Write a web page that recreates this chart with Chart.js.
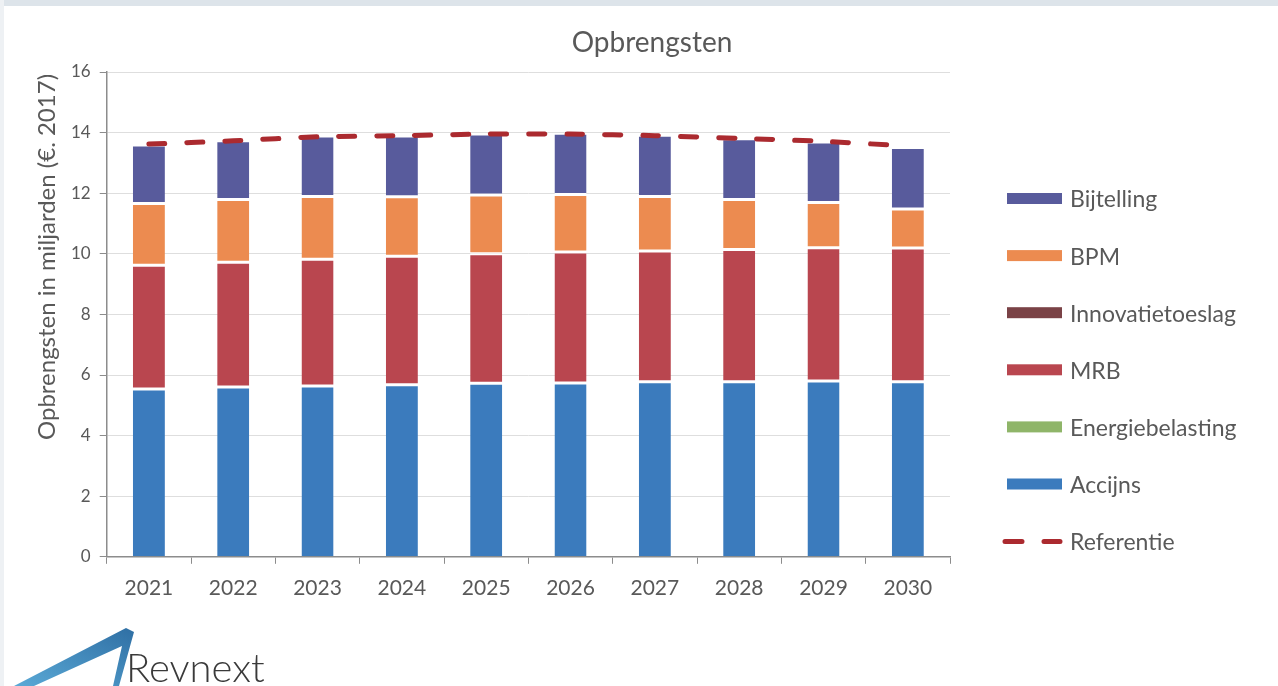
<!DOCTYPE html>
<html lang="nl">
<head>
<meta charset="utf-8">
<title>Opbrengsten</title>
<script src="https://cdn.jsdelivr.net/npm/chart.js@4.4.1/dist/chart.umd.min.js"></script>
<style>
  html, body { margin: 0; padding: 0; background: #fff; }
  body { width: 1278px; height: 686px; position: relative; overflow: hidden; font-family: Lato, "Open Sans", sans-serif; }
  .scanedge { position: absolute; left: 0; top: 0; width: 1278px; height: 6px; background: #dde4ea; }
  .scanleft { position: absolute; left: 0; top: 0; width: 4px; height: 686px; background: #eef1f4; }
  #wrap { position: absolute; left: 0; top: 0; width: 1278px; height: 686px; }
  .logo { position: absolute; left: 0; top: 620px; width: 300px; height: 66px; }
  .logo span { position: absolute; left: 126px; top: 23px; font-size: 40px; color: #3a3a3a; font-weight: 300; }
</style>
</head>
<body>
<div class="scanedge"></div>
<div class="scanleft"></div>
<div id="wrap"><canvas id="chart" width="1278" height="686"></canvas></div>
<div class="logo">
  <svg width="140" height="66" viewBox="0 0 140 66">
    <defs>
      <linearGradient id="lg" x1="0" y1="1" x2="1" y2="0">
        <stop offset="0" stop-color="#5aa9d6"/>
        <stop offset="1" stop-color="#2f6fa4"/>
      </linearGradient>
    </defs>
    <polygon points="14,66 126,8 134,12 119,66 113,66 122,26 34,66" fill="url(#lg)"/>
  </svg>
  <span>Revnext</span>
</div>
<script>
// Opbrengsten per jaar (miljarden euro, prijspeil 2017)
const years = ['2021', '2022', '2023', '2024', '2025', '2026', '2027', '2028', '2029', '2030'];

const accijns          = [5.54, 5.60, 5.64, 5.68, 5.73, 5.74, 5.78, 5.78, 5.80, 5.78];
const energiebelasting = [0, 0, 0, 0, 0, 0, 0, 0, 0, 0];
const mrb              = [4.08, 4.12, 4.18, 4.24, 4.27, 4.32, 4.31, 4.36, 4.40, 4.41];
const innovatietoeslag = [0, 0, 0, 0, 0, 0, 0, 0, 0, 0];
const bpm              = [2.04, 2.07, 2.07, 1.96, 1.94, 1.90, 1.80, 1.65, 1.49, 1.29];
const bijtelling       = [1.93, 1.94, 2.00, 2.01, 2.01, 2.02, 2.02, 2.01, 2.00, 2.03];
const referentie       = [13.62, 13.73, 13.86, 13.90, 13.95, 13.95, 13.90, 13.81, 13.71, 13.56];

const yTicks = { min: 0, max: 16, step: 2 };

const TEXT = '#595959';
const FONT = 'Lato, "Open Sans", sans-serif';

function barSet(label, data, color, bottomGap = true) {
    return {
        type: 'bar',
        label,
        data,
        backgroundColor: color,
        borderColor: '#ffffff',
        borderWidth: { top: 1.5, bottom: bottomGap ? 1.5 : 0, left: 0, right: 0 },
        borderSkipped: false,
        stack: 'opbrengst',
        order: 1,
        barPercentage: 0.38,
        categoryPercentage: 1,
    };
}

// titel en y-as titel staan in het origineel niet gecentreerd op het plotvlak
const titlesPlugin = {
    id: 'titles',
    afterDraw(chart) {
        const ctx = chart.ctx;
        ctx.save();
        ctx.fillStyle = TEXT;
        ctx.textAlign = 'center';
        ctx.textBaseline = 'middle';
        ctx.font = `28px ${FONT}`;
        ctx.fillText('Opbrengsten', 652, 43);
        ctx.translate(47, 257);
        ctx.rotate(-Math.PI / 2);
        ctx.font = `24px ${FONT}`;
        ctx.fillText('Opbrengsten in miljarden (€. 2017)', 0, 0);
        ctx.restore();
    }
};

// legenda rechts: omgekeerde stapelvolgorde, daarna de referentielijn
const legendPlugin = {
    id: 'sideLegend',
    afterDraw(chart) {
        const ctx = chart.ctx;
        const sets = chart.data.datasets;
        const bars = sets.filter(d => d.type === 'bar').reverse();
        const lines = sets.filter(d => d.type === 'line');
        const items = [...bars, ...lines];
        const x0 = 1007, sw = 55, tx = 1070, y0 = 199, dy = 57.1;
        ctx.save();
        ctx.font = `23px ${FONT}`;
        ctx.textBaseline = 'middle';
        ctx.textAlign = 'left';
        items.forEach((d, i) => {
            const y = y0 + i * dy;
            if (d.type === 'line') {
                ctx.strokeStyle = d.borderColor;
                ctx.lineWidth = 5;
                ctx.lineCap = 'round';
                ctx.beginPath();
                ctx.moveTo(x0 - 2, y); ctx.lineTo(x0 + 15, y);
                ctx.moveTo(x0 + 37, y); ctx.lineTo(x0 + sw - 2, y);
                ctx.stroke();
            } else {
                ctx.fillStyle = d.backgroundColor;
                ctx.fillRect(x0, y - 6, sw, 11);
            }
            ctx.fillStyle = TEXT;
            ctx.fillText(d.label, tx, y + 1);
        });
        ctx.restore();
    }
};

new Chart(document.getElementById('chart'), {
    data: {
        labels: years,
        datasets: [
            barSet('Accijns', accijns, '#3b7bbd', false),
            barSet('Energiebelasting', energiebelasting, '#8fb569'),
            barSet('MRB', mrb, '#b9464f'),
            barSet('Innovatietoeslag', innovatietoeslag, '#7a4246'),
            barSet('BPM', bpm, '#ec8b50'),
            barSet('Bijtelling', bijtelling, '#585b9c'),
            {
                type: 'line',
                label: 'Referentie',
                data: referentie,
                borderColor: '#ab2a2f',
                borderWidth: 5,
                borderDash: [16, 22],
                borderCapStyle: 'round',
                pointRadius: 0,
                tension: 0.2,
                fill: false,
                stack: 'ref',
                order: 0,
            },
        ],
    },
    options: {
        responsive: false,
        animation: false,
        layout: { padding: { top: 72, left: 62, right: 328, bottom: 73 } },
        plugins: {
            legend: { display: false },
            tooltip: { enabled: false },
            title: { display: false },
        },
        scales: {
            x: {
                stacked: true,
                grid: { drawOnChartArea: false, drawTicks: true, tickLength: 7, color: '#8c8c8c', offset: true },
                border: { color: '#8c8c8c', width: 1.5 },
                ticks: { color: TEXT, font: { family: FONT, size: 21 }, padding: 12, maxRotation: 0 },
            },
            y: {
                stacked: true,
                min: yTicks.min,
                max: yTicks.max,
                grid: { color: '#dedede', tickColor: '#8c8c8c', tickLength: 7, lineWidth: 1 },
                border: { color: '#8c8c8c', width: 1.5 },
                ticks: { stepSize: yTicks.step, color: TEXT, font: { family: FONT, size: 17 }, padding: 9 },
            },
        },
    },
    plugins: [titlesPlugin, legendPlugin],
});
</script>
</body>
</html>
